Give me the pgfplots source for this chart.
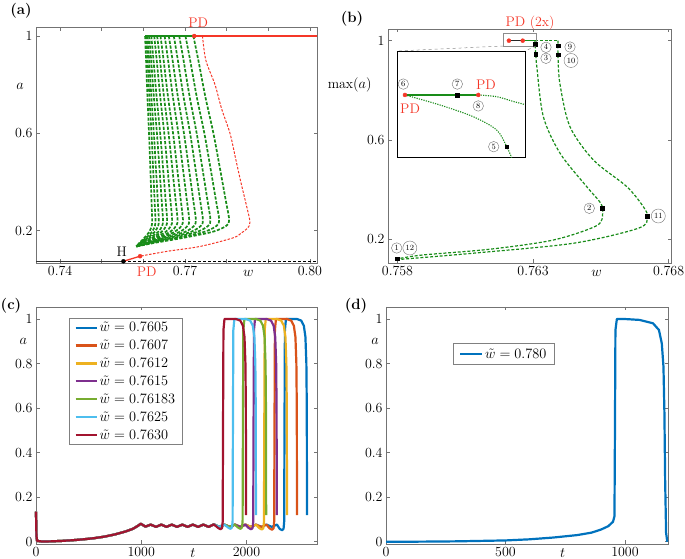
\documentclass[border=0pt]{standalone}
\usepackage{pgfplots}
\pgfplotsset{compat=1.18}
\definecolor{pdred}{RGB}{245,55,40}
\definecolor{brgreen}{RGB}{25,140,25}
\definecolor{mblue}{rgb}{0,0.447,0.741}
\definecolor{morange}{rgb}{0.85,0.325,0.098}
\definecolor{myellow}{rgb}{0.929,0.694,0.125}
\definecolor{mpurple}{rgb}{0.494,0.184,0.556}
\definecolor{mgreen}{rgb}{0.466,0.674,0.188}
\definecolor{mcyan}{rgb}{0.301,0.745,0.933}
\definecolor{mred}{rgb}{0.635,0.078,0.184}
\newcommand{\fs}{\fontsize{14}{16}\selectfont}
\pgfplotsset{
 panel/.style={scale only axis, anchor=south west, clip=false,
  axis line style={black!55, line width=0.6bp},
  tick align=inside, major tick length=3.5bp,
  xtick pos=both, ytick pos=both,
  tick style={black!55, line width=0.6bp},
  tick label style={font=\fs}},
 gdash/.style={brgreen, line width=1.7bp, dash pattern=on 3.2bp off 1.6bp, smooth},
 mline/.style={line width=2.2bp, line join=round},
}
\tikzset{cnum/.style={circle, draw=black!55, line width=0.4bp, inner sep=0pt, minimum size=10.5bp, font=\fontsize{8}{9}\selectfont, fill=white},
 cnum2/.style={cnum, minimum size=14bp}}
\begin{document}
\begin{tikzpicture}
\useasboundingbox (0bp,0bp) rectangle (685bp,559bp);
% ---------------- (a)
\begin{axis}[panel, at={(36bp,296bp)}, width=281bp, height=236bp,
 xmin=0.7342, xmax=0.8017, ymin=0.067, ymax=1.037,
 xtick={0.74,0.75,0.76,0.77,0.78,0.79,0.80}, xticklabels={0.74,,,0.77,,,0.80},
 ytick={0.2,0.6,1}, yticklabels={0.2,0.6,1}]
\addplot[gdash] coordinates {(0.7604,1)(0.76064,0.9)(0.76097,0.75)(0.76135,0.6)(0.76168,0.45)(0.76195,0.32)(0.7621,0.245)(0.76199,0.22)(0.76142,0.195)(0.7602,0.17)(0.75906,0.15)(0.7583,0.135)};
\addplot[gdash] coordinates {(0.7607,1)(0.76101,0.9)(0.76144,0.75)(0.76193,0.6)(0.76235,0.45)(0.7627,0.32)(0.7629,0.245)(0.76276,0.22)(0.76207,0.195)(0.7606,0.17)(0.75922,0.15)(0.7583,0.135)};
\addplot[gdash] coordinates {(0.7610,1)(0.76138,0.9)(0.76191,0.75)(0.76251,0.6)(0.76303,0.45)(0.76346,0.32)(0.7637,0.245)(0.76354,0.22)(0.76273,0.195)(0.7610,0.17)(0.75938,0.15)(0.7583,0.135)};
\addplot[gdash] coordinates {(0.7614,1)(0.76186,0.9)(0.76251,0.75)(0.76325,0.6)(0.76388,0.45)(0.7644,0.32)(0.7647,0.245)(0.76451,0.22)(0.76355,0.195)(0.7615,0.17)(0.75958,0.15)(0.7583,0.135)};
\addplot[gdash] coordinates {(0.7619,1)(0.76243,0.9)(0.76317,0.75)(0.76403,0.6)(0.76475,0.45)(0.76536,0.32)(0.7657,0.245)(0.76548,0.22)(0.76437,0.195)(0.7620,0.17)(0.75978,0.15)(0.7583,0.135)};
\addplot[gdash] coordinates {(0.7626,1)(0.7632,0.9)(0.76404,0.75)(0.76501,0.6)(0.76583,0.45)(0.76651,0.32)(0.7669,0.245)(0.76664,0.22)(0.76535,0.195)(0.7626,0.17)(0.76002,0.15)(0.7583,0.135)};
\addplot[gdash] coordinates {(0.7633,1)(0.76399,0.9)(0.76494,0.75)(0.76604,0.6)(0.76698,0.45)(0.76776,0.32)(0.7682,0.245)(0.7679,0.22)(0.76642,0.195)(0.76325,0.17)(0.76028,0.15)(0.7583,0.135)};
\addplot[gdash] coordinates {(0.7641,1)(0.76486,0.9)(0.76591,0.75)(0.76712,0.6)(0.76815,0.45)(0.76901,0.32)(0.7695,0.245)(0.76916,0.22)(0.76748,0.195)(0.7639,0.17)(0.76054,0.15)(0.7583,0.135)};
\addplot[gdash] coordinates {(0.7651,1)(0.76593,0.9)(0.76708,0.75)(0.7684,0.6)(0.76953,0.45)(0.77047,0.32)(0.771,0.245)(0.77062,0.22)(0.76871,0.195)(0.76465,0.17)(0.76084,0.15)(0.7583,0.135)};
\addplot[gdash] coordinates {(0.7661,1)(0.76701,0.9)(0.76828,0.75)(0.76974,0.6)(0.77098,0.45)(0.77202,0.32)(0.7726,0.245)(0.77217,0.22)(0.77003,0.195)(0.76545,0.17)(0.76116,0.15)(0.7583,0.135)};
\addplot[gdash] coordinates {(0.7673,1)(0.76828,0.9)(0.76965,0.75)(0.77122,0.6)(0.77255,0.45)(0.77367,0.32)(0.7743,0.245)(0.77382,0.22)(0.77142,0.195)(0.7663,0.17)(0.7615,0.15)(0.7583,0.135)};
\addplot[gdash] coordinates {(0.7686,1)(0.76965,0.9)(0.77111,0.75)(0.7728,0.6)(0.77423,0.45)(0.77543,0.32)(0.7761,0.245)(0.77557,0.22)(0.7729,0.195)(0.7672,0.17)(0.76186,0.15)(0.7583,0.135)};
\addplot[gdash] coordinates {(0.7701,1)(0.77123,0.9)(0.77281,0.75)(0.77464,0.6)(0.77618,0.45)(0.77747,0.32)(0.7782,0.245)(0.7776,0.22)(0.77462,0.195)(0.76825,0.17)(0.76228,0.15)(0.7583,0.135)};
\addplot[gdash] coordinates {(0.772,1)(0.7732,0.9)(0.77488,0.75)(0.77682,0.6)(0.77845,0.45)(0.77983,0.32)(0.7806,0.245)(0.77993,0.22)(0.77659,0.195)(0.76945,0.17)(0.76276,0.15)(0.7583,0.135)};
\addplot[pdred, line width=1bp, dash pattern=on 2.5bp off 1.5bp, smooth] coordinates {(0.7742,1)(0.775,0.9)(0.7772,0.8)(0.7788,0.7)(0.7808,0.6)(0.7821,0.5)(0.7834,0.4)(0.7848,0.3)(0.7856,0.235)(0.785,0.21)(0.7835,0.19)(0.7815,0.17)(0.7736,0.135)(0.7657,0.115)(0.7592,0.095)};
\addplot[brgreen, line width=1.3bp] coordinates {(0.7604,1)(0.7722,1)};
\addplot[pdred, line width=1.3bp] coordinates {(0.7722,1)(0.8017,1)};
\addplot[black!80, line width=1.3bp] coordinates {(0.7342,0.074)(0.7552,0.074)};
\addplot[black, line width=1.1bp, dash pattern=on 3bp off 2bp] coordinates {(0.7552,0.074)(0.8017,0.074)};
\addplot[pdred, line width=1.3bp] coordinates {(0.7552,0.074)(0.7592,0.095)};
\addplot[only marks, mark=*, mark size=2bp, black] coordinates {(0.7552,0.074)};
\addplot[only marks, mark=*, mark size=2bp, pdred] coordinates {(0.7592,0.095)(0.7722,1)};
\end{axis}
% ---------------- (b)
\begin{axis}[panel, at={(388bp,296bp)}, width=283bp, height=234bp,
 xmin=0.75765, xmax=0.76809, ymin=0.1045, ymax=1.047,
 xtick={0.758,0.763,0.768}, xticklabels={0.758,0.763,0.768},
 ytick={0.2,0.6,1}, yticklabels={0.2,0.6,1}]
\addplot[brgreen, line width=1.2bp, dash pattern=on 3bp off 1.8bp, smooth] coordinates {(0.76307,1.0)(0.7631,0.946)(0.76314,0.895)(0.76338,0.694)(0.764,0.546)(0.76498,0.412)(0.7655,0.345)(0.76557,0.305)(0.76535,0.255)(0.76375,0.197)(0.76141,0.16)(0.75895,0.137)(0.75809,0.123)};
\addplot[brgreen, line width=1.2bp, dash pattern=on 3bp off 1.8bp, smooth] coordinates {(0.76392,1.0)(0.76392,0.944)(0.76399,0.828)(0.76436,0.654)(0.76523,0.519)(0.76646,0.412)(0.76707,0.331)(0.76722,0.29)(0.7669,0.245)(0.76449,0.184)(0.7608,0.144)(0.75809,0.119)};
\addplot[brgreen, line width=1.2bp, dash pattern=on 3bp off 1.8bp] coordinates {(0.76307,1.0)(0.76392,1.0)};
\addplot[brgreen, line width=1.2bp] coordinates {(0.76262,1)(0.76307,1)};
\addplot[black!85, line width=1.2bp] coordinates {(0.76211,1)(0.76262,1)};
\addplot[only marks, mark=square*, mark size=1.8bp, black] coordinates {(0.76307,0.985)(0.7631,0.946)(0.76392,0.979)(0.76392,0.944)(0.76555,0.325)(0.76722,0.294)(0.758,0.122)};
\addplot[only marks, mark=*, mark size=2bp, pdred] coordinates {(0.76211,1)(0.76262,1)};
\draw[black!45, line width=0.6bp] (axis cs:0.761904,0.9787) rectangle (axis cs:0.763111,1.0298);
\end{axis}
\draw[black!45, dashed, line width=0.5bp] (503.3bp,513bp) -- (397.3bp,508bp);
\draw[black!45, dashed, line width=0.5bp] (536bp,513bp) -- (525bp,508bp);
% inset
\begin{axis}[at={(397.3bp,401.3bp)}, anchor=south west, width=127.7bp, height=106.7bp,
 scale only axis, xmin=0, xmax=1, ymin=0, ymax=1, ticks=none, clip=false,
 axis line style={black, line width=0.7bp}, axis background/.style={fill=white}]
\addplot[brgreen, line width=1.1bp, dash pattern=on 1.2bp off 1.2bp, smooth] coordinates {(0.634,0.588)(0.778,0.572)(0.9,0.53)(1.0,0.498)};
\addplot[brgreen, line width=1.1bp, dash pattern=on 1.2bp off 1.2bp, smooth] coordinates {(0.06,0.588)(0.334,0.494)(0.595,0.384)(0.778,0.26)(0.857,0.103)(0.896,0.0)};
\addplot[brgreen, line width=1.2bp] coordinates {(0.06,0.588)(0.634,0.588)};
\addplot[only marks, mark=square*, mark size=1.8bp, black] coordinates {(0.47,0.588)(0.857,0.103)};
\addplot[only marks, mark=*, mark size=2bp, pdred] coordinates {(0.06,0.588)(0.634,0.588)};
\node[cnum] at (axis cs:0.047,0.69) {6};
\node[cnum] at (axis cs:0.47,0.69) {7};
\node[cnum] at (axis cs:0.634,0.485) {8};
\node[cnum] at (axis cs:0.755,0.103) {5};
\node[font=\fs, text=pdred] at (axis cs:0.1,0.463) {PD};
\node[font=\fs, text=pdred] at (axis cs:0.695,0.681) {PD};
\end{axis}
% ---------------- (c)
\begin{axis}[panel, at={(36bp,15bp)}, width=281bp, height=237bp,
 xmin=0, xmax=2670, ymin=-0.01, ymax=1.054,
 xtick={0,1000,2000}, xticklabels={0,1000,2000},
 ytick={0,0.2,0.4,0.6,0.8,1}, yticklabels={0,0.2,0.4,0.6,0.8,1},
 legend style={at={(0.1185,0.952)}, anchor=north west, draw=black!50, line width=0.5bp,
  font=\fontsize{13.5}{15}\selectfont, inner xsep=5bp, inner ysep=1.5bp, row sep=2.9bp},
 legend cell align=left,
 legend image code/.code={\draw[#1] (0bp,0bp) -- (21bp,0bp);}]
\addplot[mline, mblue] coordinates {(0,0.135)(4,0.03)(10,0.004)(60,0.001)(150,0.002)(250,0.004)(350,0.007)(450,0.011)(550,0.016)(650,0.023)(750,0.033)(850,0.046)(920,0.058)(970,0.072)(995,0.081)(1040,0.068)(1090,0.077)(1140,0.067)(1190,0.077)(1240,0.067)(1290,0.077)(1340,0.067)(1390,0.077)(1440,0.067)(1490,0.077)(1540,0.067)(1590,0.077)(1640,0.067)(1690,0.078)(1740,0.067)(1790,0.077)(1840,0.067)(1890,0.077)(1940,0.067)(1990,0.077)(2040,0.067)(2090,0.077)(2140,0.067)(2190,0.077)(2240,0.067)(2290,0.077)(2315,0.058)(2338,0.052)(2352,0.058)(2358,0.09)(2361,0.5)(2365,0.95)(2375,1)(2480,1)(2520,0.993)(2545,0.97)(2560,0.92)(2569,0.8)(2573,0.6)(2575,0.12)};
\addlegendentry{$\tilde{w}=0.7605$}
\addplot[mline, morange] coordinates {(0,0.135)(4,0.03)(10,0.004)(60,0.001)(150,0.002)(250,0.004)(350,0.007)(450,0.011)(550,0.016)(650,0.023)(750,0.033)(850,0.046)(920,0.058)(970,0.072)(995,0.081)(1040,0.068)(1090,0.077)(1140,0.067)(1190,0.077)(1240,0.067)(1290,0.077)(1340,0.067)(1390,0.077)(1440,0.067)(1490,0.077)(1540,0.067)(1590,0.077)(1640,0.067)(1690,0.078)(1740,0.067)(1790,0.077)(1840,0.067)(1890,0.077)(1940,0.067)(1990,0.077)(2040,0.067)(2090,0.077)(2140,0.067)(2190,0.077)(2220,0.06)(2243,0.054)(2257,0.06)(2263,0.09)(2266,0.5)(2270,0.95)(2280,1)(2385,1)(2425,0.993)(2450,0.97)(2465,0.92)(2474,0.8)(2478,0.6)(2480,0.12)};
\addlegendentry{$\tilde{w}=0.7607$}
\addplot[mline, myellow] coordinates {(0,0.135)(4,0.03)(10,0.004)(60,0.001)(150,0.002)(250,0.004)(350,0.007)(450,0.011)(550,0.016)(650,0.023)(750,0.033)(850,0.046)(920,0.058)(970,0.072)(995,0.081)(1040,0.068)(1090,0.077)(1140,0.067)(1190,0.077)(1240,0.067)(1290,0.077)(1340,0.067)(1390,0.077)(1440,0.067)(1490,0.077)(1540,0.067)(1590,0.077)(1640,0.067)(1690,0.078)(1740,0.067)(1790,0.077)(1840,0.067)(1890,0.077)(1940,0.067)(1990,0.077)(2040,0.067)(2090,0.077)(2123,0.061)(2146,0.055)(2160,0.061)(2166,0.09)(2169,0.5)(2173,0.95)(2183,1)(2290,1)(2330,0.993)(2355,0.97)(2370,0.92)(2379,0.8)(2383,0.6)(2385,0.12)};
\addlegendentry{$\tilde{w}=0.7612$}
\addplot[mline, mpurple] coordinates {(0,0.135)(4,0.03)(10,0.004)(60,0.001)(150,0.002)(250,0.004)(350,0.007)(450,0.011)(550,0.016)(650,0.023)(750,0.033)(850,0.046)(920,0.058)(970,0.072)(995,0.081)(1040,0.068)(1090,0.077)(1140,0.067)(1190,0.077)(1240,0.067)(1290,0.077)(1340,0.067)(1390,0.077)(1440,0.067)(1490,0.077)(1540,0.067)(1590,0.077)(1640,0.067)(1690,0.078)(1740,0.067)(1790,0.077)(1840,0.067)(1890,0.077)(1940,0.067)(1990,0.077)(2021,0.062)(2044,0.056)(2058,0.062)(2064,0.09)(2067,0.5)(2071,0.95)(2081,1)(2193,1)(2233,0.993)(2258,0.97)(2273,0.92)(2282,0.8)(2286,0.6)(2288,0.12)};
\addlegendentry{$\tilde{w}=0.7615$}
\addplot[mline, mgreen] coordinates {(0,0.135)(4,0.03)(10,0.004)(60,0.001)(150,0.002)(250,0.004)(350,0.007)(450,0.011)(550,0.016)(650,0.023)(750,0.033)(850,0.046)(920,0.058)(970,0.072)(995,0.081)(1040,0.068)(1090,0.077)(1140,0.067)(1190,0.077)(1240,0.067)(1290,0.077)(1340,0.067)(1390,0.077)(1440,0.067)(1490,0.077)(1540,0.067)(1590,0.077)(1640,0.067)(1690,0.078)(1740,0.067)(1790,0.077)(1840,0.067)(1890,0.077)(1920,0.064)(1943,0.058)(1957,0.064)(1963,0.09)(1966,0.5)(1970,0.95)(1980,1)(2092,1)(2132,0.993)(2157,0.97)(2172,0.92)(2181,0.8)(2185,0.6)(2187,0.12)};
\addlegendentry{$\tilde{w}=0.76183$}
\addplot[mline, mcyan] coordinates {(0,0.135)(4,0.03)(10,0.004)(60,0.001)(150,0.002)(250,0.004)(350,0.007)(450,0.011)(550,0.016)(650,0.023)(750,0.033)(850,0.046)(920,0.058)(970,0.072)(995,0.081)(1040,0.068)(1090,0.077)(1140,0.067)(1190,0.077)(1240,0.067)(1290,0.077)(1340,0.067)(1390,0.077)(1440,0.067)(1490,0.077)(1540,0.067)(1590,0.077)(1640,0.067)(1690,0.078)(1740,0.067)(1790,0.077)(1825,0.064)(1848,0.058)(1862,0.064)(1868,0.09)(1871,0.5)(1875,0.95)(1885,1)(1995,1)(2035,0.993)(2060,0.97)(2075,0.92)(2084,0.8)(2088,0.6)(2090,0.12)};
\addlegendentry{$\tilde{w}=0.7625$}
\addplot[mline, mred] coordinates {(0,0.135)(4,0.03)(10,0.004)(60,0.001)(150,0.002)(250,0.004)(350,0.007)(450,0.011)(550,0.016)(650,0.023)(750,0.033)(850,0.046)(920,0.058)(970,0.072)(995,0.081)(1040,0.068)(1090,0.077)(1140,0.067)(1190,0.077)(1240,0.067)(1290,0.077)(1340,0.067)(1390,0.077)(1440,0.067)(1490,0.077)(1540,0.067)(1590,0.077)(1640,0.067)(1690,0.078)(1731,0.062)(1754,0.056)(1768,0.062)(1774,0.09)(1777,0.5)(1781,0.95)(1791,1)(1901,1)(1941,0.993)(1966,0.97)(1981,0.92)(1990,0.8)(1994,0.6)(1996,0.12)};
\addlegendentry{$\tilde{w}=0.7630$}
\end{axis}
% ---------------- (d)
\begin{axis}[panel, at={(386bp,15bp)}, width=282bp, height=237bp,
 xmin=0, xmax=1180, ymin=-0.01, ymax=1.054,
 xtick={0,500,1000}, xticklabels={0,500,1000},
 ytick={0,0.2,0.4,0.6,0.8,1}, yticklabels={0,0.2,0.4,0.6,0.8,1},
 legend style={at={(0.2365,0.847)}, anchor=north west, draw=black!50, line width=0.5bp,
  font=\fontsize{14}{16}\selectfont, inner xsep=6bp, inner ysep=3bp},
 legend image code/.code={\draw[#1] (0bp,0bp) -- (22bp,0bp);}]
\addplot[mline, mblue] coordinates {(0,0)(100,0.0003)(200,0.001)(300,0.002)(400,0.004)(500,0.006)(600,0.011)(700,0.019)(800,0.03)(860,0.041)(900,0.055)(930,0.07)(950,0.09)(956,0.115)(958,0.5)(960,0.95)(966,1)(1000,1)(1061,0.996)(1117,0.981)(1142,0.951)(1154,0.891)(1161,0.786)(1165,0.577)(1168,0.277)(1172,0.04)(1177,0)};
\addlegendentry{$\tilde{w}=0.780$\hspace{8bp}}
\end{axis}
% ---------------- text
\node[font=\bfseries\fontsize{15}{17}\selectfont] at (21bp,548bp) {(a)};
\node[font=\bfseries\fontsize{15}{17}\selectfont] at (352bp,540bp) {(b)};
\node[font=\bfseries\fontsize{15}{17}\selectfont] at (11bp,253bp) {(c)};
\node[font=\bfseries\fontsize{15}{17}\selectfont] at (356bp,253bp) {(d)};
\node[font=\fs] at (20bp,472.3bp) {$a$};
\node[font=\fs, anchor=base] at (248.3bp,282.3bp) {$w$};
\node[font=\fs] at (121.7bp,307.3bp) {H};
\node[font=\fs, text=pdred] at (198.3bp,536.3bp) {PD};
\node[font=\fs, text=pdred, anchor=base] at (146.7bp,282.3bp) {PD};
\node[font=\fs, anchor=east] at (375bp,474bp) {max$(a)$};
\node[font=\fs, anchor=base] at (596.7bp,282.3bp) {$w$};
\node[font=\fs, text=pdred] at (530bp,535.7bp) {PD (2x)};
\node[cnum] at (546bp,511.7bp) {4};
\node[cnum] at (546bp,500.7bp) {3};
\node[cnum] at (570bp,512bp) {9};
\node[cnum2] at (571bp,498.5bp) {10};
\node[cnum] at (589.3bp,350.7bp) {2};
\node[cnum2] at (658.3bp,343bp) {11};
\node[cnum] at (396.7bp,311bp) {1};
\node[cnum2] at (409.8bp,311bp) {12};
\node[font=\fs] at (23.3bp,217.3bp) {$a$};
\node[font=\fs, anchor=base] at (193bp,1.3bp) {$t$};
\node[font=\fs] at (375bp,217.3bp) {$a$};
\node[font=\fs, anchor=base] at (562.7bp,1.3bp) {$t$};
\end{tikzpicture}
\end{document}
